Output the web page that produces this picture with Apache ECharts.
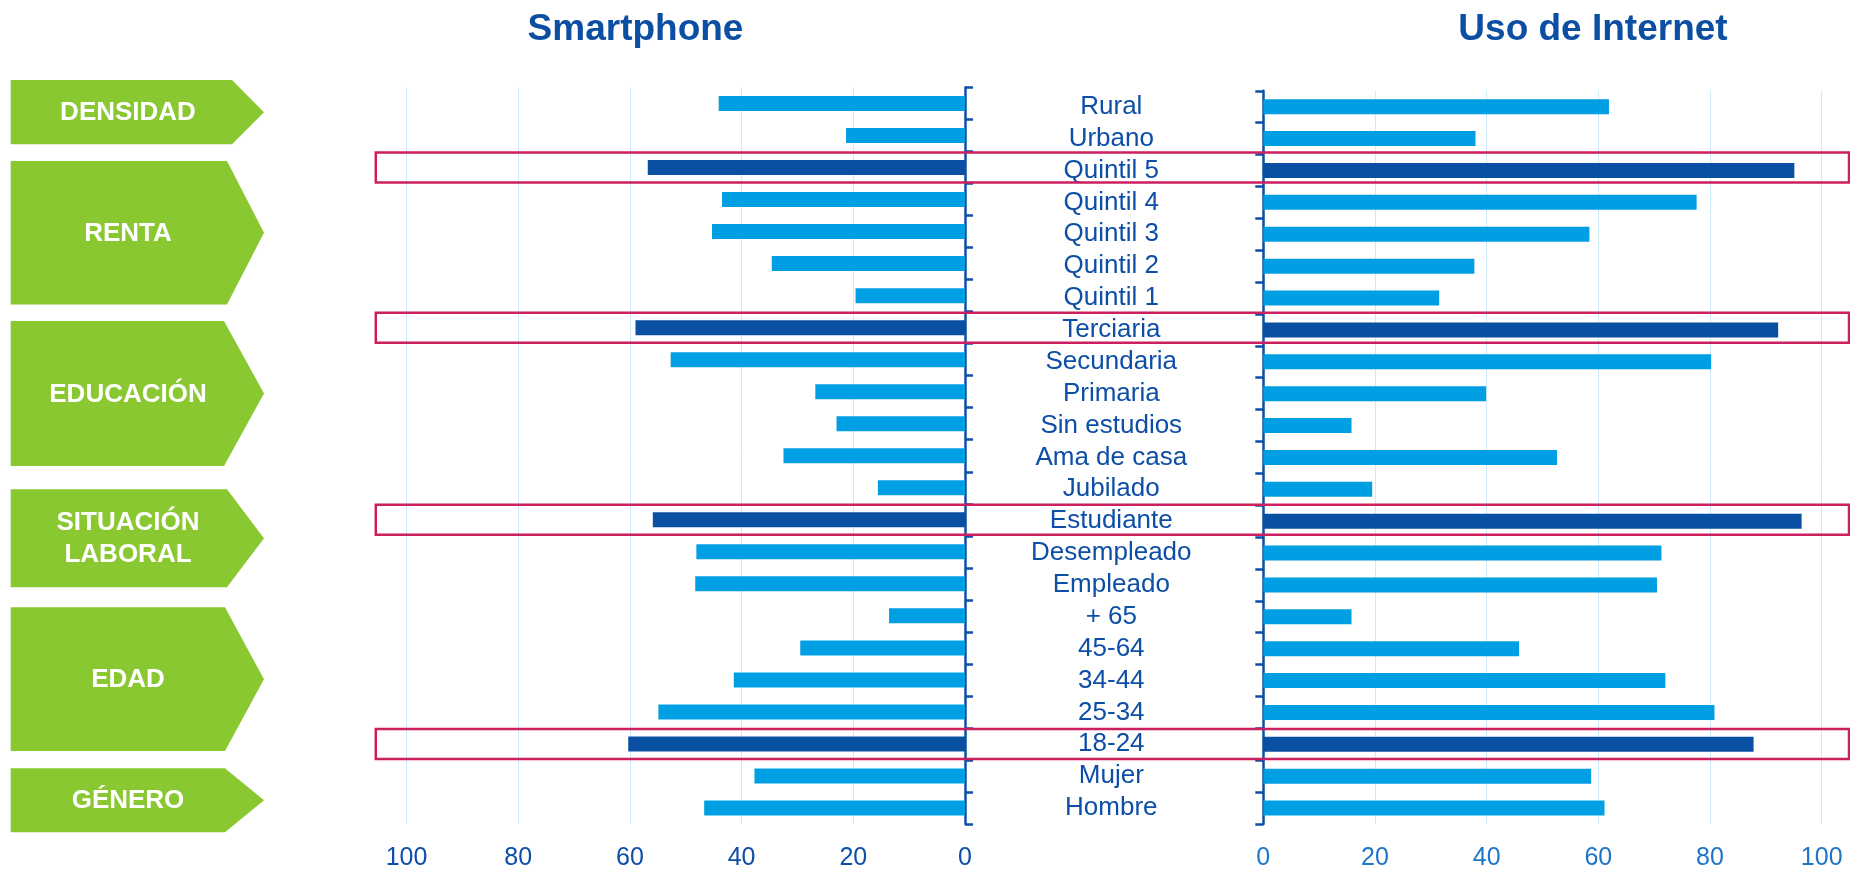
<!DOCTYPE html>
<html>
<head>
<meta charset="utf-8">
<script src="https://cdn.jsdelivr.net/npm/echarts@6/dist/echarts.min.js"></script>
<style>
  html, body { margin: 0; padding: 0; background: #ffffff; }
  #chart { width: 1850px; height: 871px; }
</style>
</head>
<body>
<div id="chart"></div>
<script>
var categories = ['Rural', 'Urbano', 'Quintil 5', 'Quintil 4', 'Quintil 3', 'Quintil 2', 'Quintil 1',
  'Terciaria', 'Secundaria', 'Primaria', 'Sin estudios', 'Ama de casa', 'Jubilado', 'Estudiante',
  'Desempleado', 'Empleado', '+ 65', '45-64', '34-44', '25-34', '18-24', 'Mujer', 'Hombre'];
var smartphone = [44.1, 21.3, 56.8, 43.5, 45.3, 34.6, 19.6, 59.0, 52.7, 26.8, 23.0, 32.5, 15.6, 55.9,
  48.1, 48.3, 13.6, 29.5, 41.4, 54.9, 60.3, 37.7, 46.7];
var internet = [61.9, 38.0, 95.1, 77.6, 58.4, 37.8, 31.5, 92.2, 80.2, 39.9, 15.8, 52.6, 19.5, 96.4,
  71.3, 70.5, 15.8, 45.8, 72.0, 80.8, 87.8, 58.7, 61.1];
var highlighted = ['Quintil 5', 'Terciaria', 'Estudiante', '18-24'];
var groupNames = ['DENSIDAD', 'RENTA', 'EDUCACIÓN', 'SITUACIÓN\nLABORAL', 'EDAD', 'GÉNERO'];

// layout of the green group tags: [top, bottom, end of flat part]
var groupBoxes = [[80, 144.3, 232], [161, 304.4, 227], [321, 466, 224], [489.3, 587.3, 227], [607.3, 751, 225], [768.3, 832.3, 225]];

var font = 'Liberation Sans, Arial, sans-serif';
var navy = '#0D4EA6';
var light = '#009FE3';
var dark = '#0A50A2';
var gridColor = '#CDEAF7';

function barData(values) {
  return values.map(function(v, i) {
    var hot = highlighted.indexOf(categories[i]) >= 0;
    return { value: v, itemStyle: { color: hot ? dark : light } };
  });
}

var chart = echarts.init(document.getElementById('chart'), null, { renderer: 'canvas' });

var graphics = [];
graphics.push({ type: 'text', x: 635.5, y: 30, style: { text: 'Smartphone', font: 'bold 37px ' + font, fill: '#0B4EA2', align: 'center', verticalAlign: 'middle' } });
graphics.push({ type: 'text', x: 1593, y: 30, style: { text: 'Uso de Internet', font: 'bold 37px ' + font, fill: '#0B4EA2', align: 'center', verticalAlign: 'middle' } });

groupBoxes.forEach(function(b, i) {
  var mid = (b[0] + b[1]) / 2;
  graphics.push({
    type: 'polygon',
    shape: { points: [[10.7, b[0]], [b[2], b[0]], [264, mid], [b[2], b[1]], [10.7, b[1]]] },
    style: { fill: '#8AC832' }
  });
  graphics.push({
    type: 'text', x: 128, y: mid + 1,
    style: { text: groupNames[i], font: 'bold 26px ' + font, fill: '#ffffff', align: 'center', verticalAlign: 'middle', lineHeight: 32 }
  });
});

var catAxisLine = { lineStyle: { color: navy, width: 2.5 } };
var catAxisTick = { show: true, length: 8, lineStyle: { color: navy, width: 2.5 } };

chart.setOption({
  animation: false,
  grid: [
    { left: 406.5, top: 87.5, width: 558.5, height: 741 },
    { left: 1263.3, top: 90.8, width: 558.4, height: 741 }
  ],
  xAxis: [
    {
      gridIndex: 0, type: 'value', min: 0, max: 100, interval: 20, inverse: true,
      axisLine: { show: false }, axisTick: { show: false },
      axisLabel: { color: navy, fontSize: 25, fontFamily: font, margin: 22 },
      splitLine: { lineStyle: { color: gridColor, width: 1 } }
    },
    {
      gridIndex: 1, type: 'value', min: 0, max: 100, interval: 20,
      axisLine: { show: false }, axisTick: { show: false },
      axisLabel: { color: '#1C75C8', fontSize: 25, fontFamily: font, margin: 22 },
      splitLine: { lineStyle: { color: gridColor, width: 1 } }
    }
  ],
  yAxis: [
    {
      gridIndex: 0, type: 'category', data: categories, inverse: true, position: 'right',
      axisLine: catAxisLine, axisTick: catAxisTick,
      axisLabel: { show: false }
    },
    {
      gridIndex: 1, type: 'category', data: categories, inverse: true, position: 'left',
      axisLine: catAxisLine, axisTick: catAxisTick,
      axisLabel: { interval: 0, align: 'center', margin: 152, color: navy, fontSize: 26, fontFamily: font }
    }
  ],
  series: [
    { name: 'Smartphone', type: 'bar', xAxisIndex: 0, yAxisIndex: 0, barWidth: 15, data: barData(smartphone) },
    { name: 'Uso de Internet', type: 'bar', xAxisIndex: 1, yAxisIndex: 1, barWidth: 15, data: barData(internet) }
  ],
  graphic: graphics
});

// red frames round the highlighted rows, placed from the axis scales
var boxX = chart.convertToPixel({ xAxisIndex: 0 }, 105.5);
highlighted.forEach(function(c) {
  var cy = chart.convertToPixel({ yAxisIndex: 0 }, c);
  graphics.push({
    type: 'rect', z: 100,
    shape: { x: boxX, y: cy - 15, width: 1849 - boxX, height: 30 },
    style: { fill: 'none', stroke: '#CC1F5F', lineWidth: 2.5 }
  });
});
chart.setOption({ graphic: graphics });
</script>
</body>
</html>
